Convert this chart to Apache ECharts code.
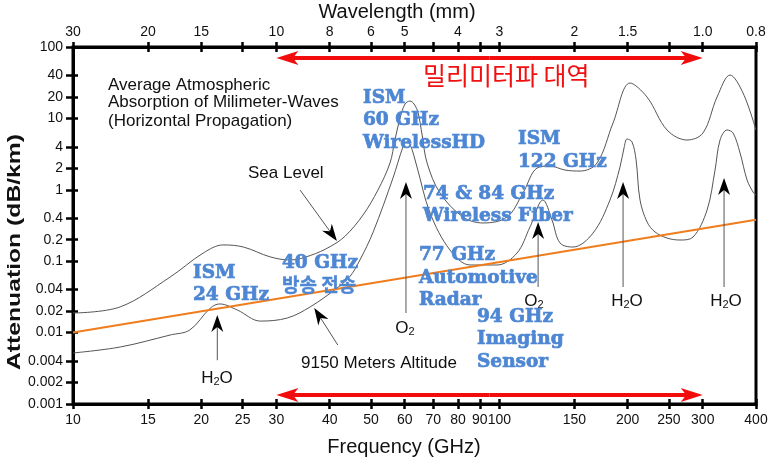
<!DOCTYPE html>
<html><head><meta charset="utf-8">
<script src="https://cdn.jsdelivr.net/npm/echarts@6/dist/echarts.min.js"></script>
<style>html,body{margin:0;padding:0;background:#fff}#c{width:773px;height:461px}</style>
</head><body><div id="c"></div>
<script>
// ---------- data ----------
const freqTicks = [10, 15, 20, 25, 30, 40, 50, 60, 70, 80, 90, 100, 150, 200, 250, 300, 400];
const wavelengthLabels = ['30', '20', '15', '', '10', '8', '6', '5', '', '4', '', '3', '2', '1.5', '', '1.0', '0.8'];
const attTicks = [0.001, 0.002, 0.004, 0.01, 0.02, 0.04, 0.1, 0.2, 0.4, 1, 2, 4, 10, 20, 40, 100];

const seaFreq = [10, 12.9, 16.9, 20.2, 22.5, 25.1, 29.0, 32.3, 36.0, 40.1, 43.5, 47.9, 51.9, 55.4, 56.9, 58.5, 60.1, 61.7, 63.1, 64.5, 65.9, 67.7, 72.6, 82.2, 91.6, 104.3, 113.6, 122.6, 131.5, 142.6, 154.7, 169.5, 184.8, 202.6, 222.1, 247.4, 275.6, 300.4, 324.1, 347.7, 372.9, 400];
const seaAtt  = [0.0188, 0.0229, 0.060, 0.130, 0.169, 0.158, 0.115, 0.104, 0.12, 0.16, 0.225, 0.444, 0.99, 2.37, 4.98, 10.1, 15.9, 17.5, 15.9, 11.9, 5.86, 2.37, 0.90, 0.416, 0.343, 0.416, 0.90, 2.02, 2.15, 1.89, 1.83, 2.37, 8.63, 31.3, 19.9, 6.88, 4.98, 6.25, 19.9, 40.5, 22.7, 6.88];

const altFreq = [10, 12.9, 16.9, 18.8, 21.0, 22.1, 24.3, 27.5, 31.8, 36.0, 41.6, 44.7, 47.1, 50.6, 56.3, 59.4, 60.4, 61.7, 64.1, 68.8, 76.6, 85.4, 98.8, 110.0, 118.0, 126.6, 132.9, 138.8, 148.9, 165.9, 181.8, 191.9, 196.1, 199.4, 204.8, 209.3, 213.8, 222.1, 231.8, 247.4, 265.4, 284.7, 307.1, 320.6, 329.4, 342.1, 353.4, 367.0, 381.2, 393.7, 400];
const altAtt  = [0.00518, 0.00628, 0.00925, 0.0109, 0.0221, 0.0252, 0.0207, 0.0145, 0.016, 0.0229, 0.042, 0.062, 0.104, 0.257, 1.46, 3.97, 4.67, 4.38, 2.09, 0.473, 0.1435, 0.0885, 0.0885, 0.130, 0.301, 0.72, 0.378, 0.180, 0.158, 0.248, 0.72, 2.09, 3.85, 5.15, 4.67, 2.61, 0.72, 0.354, 0.257, 0.211, 0.198, 0.218, 0.521, 1.89, 4.98, 6.88, 6.25, 3.28, 1.371, 0.931, 0.845];

const refFreq = [10, 400];
const refAtt  = [0.01, 0.38];

const bandFreq = [30, 300];   // millimetre-wave band
const bandAttTop = 70, bandAttBottom = 0.00134;

// ---------- chart ----------
const chart = echarts.init(document.getElementById('c'), null, {renderer: 'canvas'});
const zip = (a, b) => a.map((x, i) => [x, b[i]]);
const FONT = '"Liberation Sans", Arial, sans-serif';
const tick = {color: '#000', width: 2.5};
const fmtNum = v => String(Number(Number(v).toPrecision(3)));
const nearestIdx = v => { let bi = 0, bd = 1e9; freqTicks.forEach((t, i) => { const d = Math.abs(Math.log(t) - Math.log(v)); if (d < bd) { bd = d; bi = i; } }); return bi; };

function xAx(extra) {
  return Object.assign({type: 'log', logBase: 10, min: 10, max: 400, splitLine: {show: false}, minorTick: {show: false}, minorSplitLine: {show: false}}, extra);
}
function yAx(extra) {
  return Object.assign({type: 'log', logBase: 10, min: 0.001, max: 100, splitLine: {show: false}, minorTick: {show: false}, minorSplitLine: {show: false}}, extra);
}

chart.setOption({
  animation: false,
  backgroundColor: '#fff',
  grid: {left: 73, right: 17, top: 47, bottom: 57, show: true, borderColor: '#000', borderWidth: 3, containLabel: false},
  xAxis: [
    xAx({position: 'bottom',
      axisLine: {lineStyle: {color: '#000', width: 3}},
      axisTick: {customValues: freqTicks, length: 5, lineStyle: tick},
      axisLabel: {customValues: freqTicks, formatter: v => fmtNum(v), color: '#111', fontSize: 14, fontFamily: FONT, margin: 9}}),
    xAx({position: 'top',
      axisLine: {lineStyle: {color: '#000', width: 3}},
      axisTick: {customValues: freqTicks, length: 5, lineStyle: tick},
      axisLabel: {customValues: freqTicks, formatter: v => wavelengthLabels[nearestIdx(v)], color: '#111', fontSize: 14, fontFamily: FONT, margin: 8}}),
    xAx({position: 'bottom', axisLine: {show: false}, axisLabel: {show: false},
      axisTick: {customValues: freqTicks, inside: true, length: 5, lineStyle: tick}}),
    xAx({position: 'top', axisLine: {show: false}, axisLabel: {show: false},
      axisTick: {customValues: freqTicks, inside: true, length: 5, lineStyle: tick}})
  ],
  yAxis: [
    yAx({position: 'left',
      axisLine: {show: true, lineStyle: {color: '#000', width: 3}},
      axisTick: {show: true, customValues: attTicks, length: 7, lineStyle: tick},
      axisLabel: {customValues: attTicks, formatter: v => fmtNum(v), color: '#111', fontSize: 14, fontFamily: FONT, margin: 10}}),
    yAx({position: 'left', axisLine: {show: false}, axisLabel: {show: false},
      axisTick: {show: true, customValues: attTicks, inside: true, length: 5, lineStyle: tick}})
  ],
  series: [
    {name: 'Sea Level', type: 'line', xAxisIndex: 0, yAxisIndex: 0, data: zip(seaFreq, seaAtt), smooth: 0.35, symbol: 'none', lineStyle: {color: '#555', width: 1}},
    {name: '9150 Meters Altitude', type: 'line', xAxisIndex: 0, yAxisIndex: 0, data: zip(altFreq, altAtt), smooth: 0.35, symbol: 'none', lineStyle: {color: '#555', width: 1}},
    {name: 'Reference', type: 'line', xAxisIndex: 0, yAxisIndex: 0, data: zip(refFreq, refAtt), symbol: 'none', lineStyle: {color: '#ef7d1d', width: 2}, z: 5}
  ]
});

// ---------- annotations ----------
const P = (f, v) => chart.convertToPixel({xAxisIndex: 0, yAxisIndex: 0}, [f, v]);
const g = [];
function arrow(p1, p2, o) {
  const dx = p2[0] - p1[0], dy = p2[1] - p1[1], L = Math.hypot(dx, dy);
  const ux = dx / L, uy = dy / L, nx = -uy, ny = ux;
  const hl = o.headLen, hw = o.headW;
  const bx = p2[0] - ux * hl, by = p2[1] - uy * hl;
  const nbx = p2[0] - ux * hl * (o.notch || 0.75), nby = p2[1] - uy * hl * (o.notch || 0.75);
  g.push({type: 'line', shape: {x1: p1[0], y1: p1[1], x2: nbx, y2: nby}, style: {stroke: o.lineColor, lineWidth: o.lineWidth}, z: 20});
  g.push({type: 'polygon', shape: {points: [[p2[0], p2[1]], [bx + nx * hw, by + ny * hw], [nbx, nby], [bx - nx * hw, by - ny * hw]]}, style: {fill: o.headColor}, z: 21});
}
const blackArrow = {headLen: 17, headW: 6, notch: 0.7, lineColor: '#555', lineWidth: 1, headColor: '#000'};
arrow(P(34.1, 0.99), P(41.6, 0.192), blackArrow);          // sea level
arrow(P(41.8, 0.0067), P(36.8, 0.0221), blackArrow);       // altitude
arrow(P(21.8, 0.0041), P(21.8, 0.0176), blackArrow);       // H2O 22
arrow(P(60.4, 0.0188), P(60.4, 1.285), blackArrow);        // O2 60
arrow(P(123.3, 0.0435), P(123.3, 0.354), blackArrow);      // O2 118
arrow(P(195.1, 0.0435), P(195.1, 1.285), blackArrow);      // H2O 183
arrow(P(336.6, 0.0435), P(336.6, 1.46), blackArrow);       // H2O 325

const redArrow = {headLen: 22, headW: 7, notch: 0.75, lineColor: '#f20c0c', lineWidth: 4, headColor: '#f20c0c'};
[bandAttTop, bandAttBottom].forEach(v => {
  const a = P(bandFreq[0], v), b = P(bandFreq[1], v);
  const m = [(a[0] + b[0]) / 2, a[1]];
  arrow(m, a, redArrow);
  arrow(m, b, redArrow);
});

function txt(s, x, y, font, fill, align, stroke) {
  const st = {text: s, font: font, fill: fill, textAlign: align || 'left', textVerticalAlign: 'middle'};
  if (stroke) { st.stroke = fill; st.lineWidth = stroke; }
  g.push({type: 'text', x: x, y: y, z: 30, style: st});
}
const BF = '17px ' + FONT;
txt('Average Atmospheric', 108, 85, BF, '#111');
txt('Absorption of Milimeter-Waves', 108, 102, BF, '#111');
txt('(Horizontal Propagation)', 108, 121, BF, '#111');
txt('Sea Level', 248, 173, BF, '#111');
txt('9150 Meters Altitude', 301, 363, BF, '#111');

function chem(parts, cx, cy) {
  g.push({type: 'text', x: cx, y: cy, z: 30, style: {
    text: parts, textAlign: 'center', textVerticalAlign: 'middle',
    rich: {n: {font: BF, fill: '#111', verticalAlign: 'bottom', lineHeight: 20}, s: {font: '11px ' + FONT, fill: '#111', verticalAlign: 'bottom', lineHeight: 17}}
  }});
}
chem('{n|H}{s|2}{n|O}', 217, 377);
chem('{n|O}{s|2}', 405, 327);
chem('{n|O}{s|2}', 534, 300);
chem('{n|H}{s|2}{n|O}', 627, 300);
chem('{n|H}{s|2}{n|O}', 726, 300);

const blue = '#4d86d3';
const SF = 'bold 18.5px "DejaVu Serif", serif';
const KF = 'bold 19px "Noto Sans CJK KR", sans-serif';
[['ISM', 363, 98], ['60 GHz', 363, 120], ['WirelessHD', 363, 143],
 ['ISM', 518, 139], ['122 GHz', 518, 162],
 ['74 & 84 GHz', 423, 194], ['Wireless Fiber', 423, 216],
 ['77 GHz', 419, 255], ['Automotive', 419, 278], ['Radar', 419, 300],
 ['94 GHz', 477, 317], ['Imaging', 477, 339], ['Sensor', 477, 362],
 ['ISM', 193, 273], ['24 GHz', 193, 295],
 ['40 GHz', 282, 263]].forEach(t => txt(t[0], t[1], t[2], SF, blue, 'left', 0.7));
txt('방송 전송', 282, 285, KF, blue, 'left', 0.4);

txt('밀리미터파 대역', 423, 75, '25px "Noto Sans CJK KR", sans-serif', '#f01010');

txt('Wavelength (mm)', 397, 12, '20px ' + FONT, '#111', 'center');
txt('Frequency (GHz)', 404, 447, '20px ' + FONT, '#111', 'center');
g.push({type: 'text', x: 15, y: 252, rotation: Math.PI / 2, scaleX: 1.3, z: 30,
  style: {text: 'Attenuation (dB/km)', font: 'bold 19px ' + FONT, fill: '#111', textAlign: 'center', textVerticalAlign: 'middle'}});

chart.setOption({graphic: g});
</script></body></html>
